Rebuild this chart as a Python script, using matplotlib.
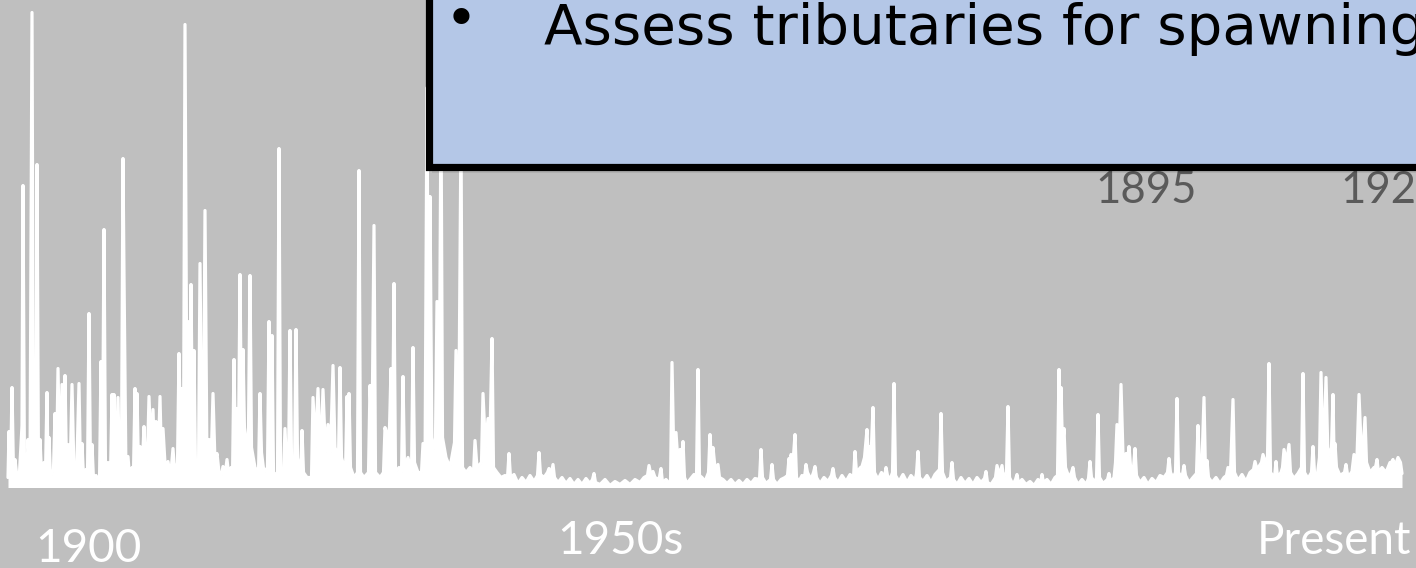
import matplotlib
matplotlib.use("Agg")
import matplotlib.pyplot as plt
from matplotlib.patches import Rectangle
import numpy as np

# ── Data: daily river flow, months since Jan 1900, flow in 1000 cfs ──────────
# spikes (flood peaks)
peaks_early = [
    (1, 5.6), (4, 10.0), (7, 2.8), (15, 30.2), (18, 2.3), (20, 4.8), (24, 47.5),
    (27, 11.9), (29, 32.3), (32, 4.8), (39, 9.5), (41, 5.0), (47, 7.4), (50, 11.9),
    (54, 10.3), (57, 11.2), (60, 4.3), (64, 10.3), (71, 10.4), (74, 4.4), (81, 17.4),
    (84, 4.3), (93, 12.6), (96, 25.8), (104, 9.3), (106, 9.3), (110, 9.0), (115, 32.9),
    (116, 21.3), (120, 3.1), (127, 9.9), (129, 9.4), (132, 4.1), (136, 6.1), (141, 9.1),
    (145, 7.8), (148, 6.6), (152, 9.1), (155, 5.9), (160, 2.6), (165, 3.9), (171, 13.4),
    (174, 9.9), (177, 46.3), (181, 16.6), (183, 20.3), (186, 13.7), (189, 2.6),
    (192, 22.4), (197, 27.7), (201, 4.8), (205, 9.4), (209, 3.4), (215, 2.1), (219, 2.8),
    (223, 2.0), (226, 12.8), (229, 7.9), (232, 21.3), (235, 13.8), (242, 21.2),
    (252, 9.4), (261, 16.6), (264, 15.2), (271, 33.9), (277, 5.9), (282, 15.7),
    (288, 15.8), (294, 5.7), (305, 9.0), (310, 9.9), (315, 9.8), (320, 6.3), (325, 12.2),
    (332, 12.0), (339, 9.1), (341, 9.4), (351, 31.7), (362, 10.2), (366, 26.2), (377, 6.0),
    (383, 11.9), (386, 20.4), (395, 11.1), (405, 14.0), (415, 4.4), (419, 40.0),
    (422, 29.1), (429, 18.6), (433, 38.0), (448, 13.7), (453, 36.0), (467, 4.7),
    (475, 9.4), (480, 6.9), (484, 14.9), (501, 3.4),
]
peaks_mid = [
    (531, 3.5), (541, 1.9), (545, 2.3), (586, 1.4), (641, 2.2), (645, 1.6), (653, 1.9),
    (664, 12.5), (668, 5.5), (672, 3.8), (675, 4.6), (690, 11.8), (702, 5.3), (705, 4.0),
    (710, 2.3), (753, 3.8), (764, 2.3), (781, 2.9), (783, 3.3), (787, 5.3), (798, 2.3),
    (807, 2.1), (825, 1.9), (847, 3.6), (854, 2.1), (859, 5.8), (861, 4.1), (865, 8.0),
    (878, 2.0), (886, 10.4), (910, 3.6), (933, 7.4), (944, 2.5),
]
peaks_late = [
    (978, 1.6), (989, 2.2), (994, 2.2), (1000, 8.1), (1009, 1.3), (1034, 1.3),
    (1051, 11.8), (1053, 10.0), (1056, 5.9), (1065, 2.0), (1082, 2.6), (1090, 7.3),
    (1101, 1.4), (1109, 6.3), (1113, 10.3), (1118, 3.4), (1121, 4.1), (1127, 3.9),
    (1161, 2.9), (1169, 8.9), (1176, 2.2), (1190, 6.2), (1196, 9.0), (1199, 2.7),
    (1220, 2.0), (1225, 8.8), (1247, 2.6), (1255, 3.3), (1261, 12.4), (1268, 2.6),
    (1276, 3.8), (1281, 4.3), (1295, 11.4), (1305, 4.1), (1313, 11.5), (1318, 11.0),
    (1325, 9.3), (1327, 4.4), (1338, 2.3), (1346, 3.3), (1351, 9.3), (1357, 7.0),
    (1369, 2.8), (1385, 2.8), (1394, 1.4),
]

# low flow between the peaks
valleys_early = [
    (0, 1.0), (2.5, 1.2), (5.5, 1.5), (9, 1.0), (11.5, 1.5), (14, 6.2), (16.5, 1.0),
    (19, 1.5), (22, 1.2), (25.5, 2.0), (28, 3.0), (30.5, 1.5), (33.5, 1.5), (36, 2.5),
    (37.5, 1.5), (40, 2.0), (42.5, 1.0), (45.5, 1.8), (48.5, 2.0), (52, 1.5), (55.5, 2.5),
    (58.5, 2.0), (62, 1.0), (66, 1.5), (68.5, 1.0), (72.5, 1.5), (75.5, 1.0), (78, 1.8),
    (79.5, 1.2), (82.5, 1.5), (85.5, 0.8), (88, 1.2), (91.5, 0.6), (94.5, 2.5),
    (97.5, 1.5), (100, 2.5), (102.5, 1.2), (105, 3.0), (108, 1.5), (111.5, 1.5),
    (113.5, 3.5), (118, 1.0), (121.5, 1.0), (124, 2.0), (125.5, 1.5), (128, 4.0),
    (130.5, 2.0), (134, 1.5), (137.5, 2.5), (139.5, 3.0), (143, 3.5), (146.5, 3.0),
    (150, 2.0), (153.5, 2.5), (157.5, 1.5), (162.5, 1.0), (167, 1.0), (169.5, 2.5),
    (172.5, 5.0), (175.5, 3.0), (179, 4.0), (182, 9.0), (184.5, 5.0), (187.5, 2.0),
    (190.5, 1.5), (194, 3.0), (195.5, 4.5), (199, 2.0), (203, 2.0), (207, 2.5),
    (211, 1.5), (213, 1.0), (217, 1.2), (221, 1.0), (224.5, 1.0), (227.5, 3.0),
    (230.5, 4.0), (233.5, 5.5), (237, 3.0), (240.5, 6.0), (243.5, 4.0), (247, 2.0),
    (250.5, 1.5), (253.5, 3.5), (256, 1.5), (259.5, 2.0), (262.5, 6.0), (265.5, 1.5),
    (269.5, 1.2), (272.5, 2.0), (275.5, 1.5), (279, 1.0), (280.5, 2.0), (283.5, 3.0),
    (286.5, 1.5), (289.5, 3.0), (292.5, 1.0), (295.5, 1.5), (299, 1.0), (303.5, 1.0),
    (307.5, 4.0), (312.5, 2.5), (317.5, 3.5), (322.5, 3.5), (327, 4.0), (330.5, 3.0),
    (333.5, 3.0), (337.5, 1.5), (340, 4.0), (342.5, 2.0), (346, 1.0), (349.5, 1.5),
    (352.5, 1.5), (356, 1.0), (360.5, 1.5), (364, 5.0), (367.5, 1.5), (372, 1.0),
    (375.5, 1.5), (379, 5.0), (381.5, 6.0), (384.5, 4.0), (387.5, 1.5), (391, 2.0),
    (393.5, 1.5), (396.5, 2.0), (400, 3.0), (403.5, 1.5), (406.5, 2.5), (410, 1.5),
    (413.5, 1.5), (417, 1.5), (420.5, 8.0), (424, 3.0), (427.5, 5.0), (431, 4.0),
    (434.5, 5.0), (438, 3.0), (442, 2.0), (446.5, 4.5), (450.5, 2.5), (454.5, 2.0),
    (458, 1.5), (462, 2.0), (465.5, 1.5), (469, 2.0), (473.5, 2.5), (477.5, 4.0),
    (482, 5.0), (485.5, 2.0), (489, 1.5), (493, 1.0), (497, 1.2), (499.5, 1.0),
]
valleys_mid = [
    (502.5, 1.0), (506, 1.3), (510, 0.4), (514, 1.0), (518, 0.5), (522, 1.2), (526, 0.6),
    (529.5, 1.2), (532.5, 1.3), (536, 1.0), (539.5, 1.5), (543, 1.2), (546.5, 1.0),
    (550, 0.5), (554, 1.0), (558, 0.4), (562, 0.9), (566, 0.3), (570, 0.8), (574, 0.3),
    (578, 0.9), (582, 0.4), (584.5, 0.8), (587.5, 0.5), (592, 0.3), (597, 0.8),
    (602, 0.2), (607, 0.6), (612, 0.3), (617, 0.7), (622, 0.3), (627, 0.8), (632, 0.5),
    (636, 1.0), (639.5, 1.2), (643, 1.2), (647, 1.0), (651, 0.8), (654.5, 0.5),
    (658, 0.8), (662.5, 0.3), (666, 2.0), (670, 2.5), (673.5, 2.5), (676.5, 1.0),
    (679, 0.4), (682, 0.8), (686, 1.3), (688.5, 1.0), (691.5, 1.2), (694, 1.0),
    (697, 0.6), (700.5, 1.5), (703.5, 2.5), (707.5, 1.5), (711.5, 1.0), (715, 0.8),
    (719, 0.4), (723, 0.8), (727, 0.3), (731, 0.7), (735, 0.3), (739, 0.8), (743, 0.4),
    (747, 0.9), (751.5, 0.8), (754.5, 1.0), (758, 0.4), (762.5, 0.8), (765.5, 0.8),
    (769, 0.3), (773, 0.8), (777, 1.0), (779.5, 1.2), (782, 2.0), (785, 2.5),
    (788.5, 1.0), (791, 0.6), (794, 1.2), (796.5, 1.0), (799.5, 1.5), (803, 0.8),
    (805.5, 1.5), (808.5, 1.0), (812, 0.4), (816, 1.0), (820, 0.6), (823.5, 1.2),
    (826.5, 1.0), (830, 0.5), (834, 1.2), (838, 0.6), (842, 1.3), (845.5, 1.0),
    (848.5, 1.5), (852.5, 2.0), (856.5, 3.0), (860, 3.5), (863, 3.0), (866.5, 1.5),
    (870, 0.8), (873.5, 1.5), (876.5, 1.0), (879.5, 1.2), (882, 0.8), (884.5, 1.5),
    (887.5, 1.2), (891, 0.6), (895, 1.3), (899, 0.5), (903, 1.2), (907, 0.7),
    (908.5, 1.4), (911.5, 1.0), (915, 0.6), (919, 1.2), (923, 0.5), (927, 1.3),
    (931.5, 1.8), (934.5, 1.5), (938, 0.6), (942.5, 1.0), (945.5, 0.8), (949, 0.3),
    (953, 1.0), (957, 0.4), (961, 0.9), (965, 0.3), (969, 1.0), (973, 0.5), (976.5, 0.9),
]
valleys_late = [
    (979.5, 0.5), (983, 0.3), (987.5, 1.0), (991.5, 1.2), (995.5, 1.0), (998.5, 1.5),
    (1001.5, 1.0), (1005, 0.3), (1007.5, 0.8), (1010.5, 0.4), (1014, 0.8), (1018, 0.3),
    (1022, 0.6), (1026, 0.2), (1030, 0.8), (1032.5, 0.4), (1035.5, 0.5), (1039, 0.8),
    (1043, 0.3), (1047, 1.0), (1049.5, 1.2), (1052, 5.0), (1054.5, 4.0), (1057.5, 2.0),
    (1061, 1.0), (1063.5, 1.5), (1066.5, 1.0), (1070, 0.3), (1074, 0.8), (1078, 0.3),
    (1080.5, 0.9), (1083.5, 1.0), (1087, 0.5), (1088.5, 1.0), (1091.5, 1.0),
    (1095, 0.4), (1099.5, 0.8), (1102.5, 0.5), (1106, 1.0), (1107.5, 2.5), (1111, 3.0),
    (1115.5, 1.5), (1119.5, 2.5), (1123, 1.5), (1125.5, 2.0), (1128.5, 1.2),
    (1132, 0.5), (1136, 1.0), (1140, 0.3), (1144, 0.9), (1148, 0.5), (1152, 1.2),
    (1156, 1.0), (1159.5, 1.5), (1162.5, 1.5), (1165, 1.0), (1167.5, 1.5),
    (1170.5, 1.5), (1174, 1.0), (1177.5, 1.2), (1181, 0.5), (1185, 1.0), (1188.5, 1.4),
    (1191.5, 2.0), (1194, 2.5), (1197.5, 1.5), (1200.5, 1.0), (1204, 0.5), (1208, 1.0),
    (1212, 0.4), (1216, 1.0), (1218.5, 1.2), (1222.5, 1.5), (1226.5, 1.5), (1230, 0.7),
    (1234, 1.3), (1238, 0.6), (1242, 1.5), (1245.5, 1.8), (1249, 1.8), (1253.5, 2.5),
    (1257.5, 2.5), (1259.5, 3.0), (1262.5, 1.5), (1266.5, 1.0), (1269.5, 1.0),
    (1273, 1.5), (1274.5, 2.0), (1278.5, 2.5), (1282.5, 1.5), (1286, 0.9), (1290, 1.4),
    (1293.5, 2.0), (1296.5, 1.5), (1300, 0.9), (1303.5, 1.5), (1306.5, 1.5),
    (1309, 1.0), (1311.5, 3.0), (1315.5, 2.0), (1320, 3.0), (1323.5, 4.0), (1326, 3.5),
    (1328.5, 2.0), (1332, 1.2), (1336.5, 1.5), (1340, 1.0), (1344, 1.6), (1348.5, 1.5),
    (1354, 2.0), (1358.5, 2.5), (1362, 1.5), (1366, 2.0), (1367.5, 2.0), (1370.5, 1.5),
    (1374, 2.0), (1378, 1.5), (1382, 2.5), (1383.5, 2.5), (1386.5, 2.0), (1390, 3.0),
    (1392.5, 2.5),
]

bottom_labels = ["1900", "1950s", "Present"]
hidden_ticks = ["1895", "192"]
bullet_text = "Assess tributaries for spawning habitat"

# ── Colours / fonts ───────────────────────────────────────────────────────────
BG      = "#BFBFBF"
BOX     = "#B4C7E7"
GREY_TX = "#5A5A5A"
FONT    = ["Lato", "DejaVu Sans"]
BOXFONT = ["DejaVu Sans"]

W, H = 1416, 568


def fx(x):
    return x / W


def fy(y):
    return 1 - y / H


# ── Build the hydrograph line ─────────────────────────────────────────────────
pts = peaks_early + peaks_mid + peaks_late + valleys_early + valleys_mid + valleys_late
pts = np.array(sorted(pts))
month, flow = pts[:, 0], pts[:, 1]

fig = plt.figure(figsize=(W / 100, H / 100), dpi=100, facecolor=BG)
ax = fig.add_axes([0, 0, 1, 1])
ax.axis("off")
ax.fill_between(month, 0, flow, color="white", linewidth=0)
ax.plot(month, flow, color="white", linewidth=2.3,
        solid_joinstyle="round", solid_capstyle="round")
ax.set_xlim(-8, 1408)
ax.set_ylim(-8.05, 48.75)

# ── Text box overlay (top right) ──────────────────────────────────────────────
for k, a in [(6, 0.08), (4, 0.12), (2, 0.18)]:
    fig.patches.append(Rectangle((fx(428.8 + k * 0.5), fy(166.5 + k)), 1, 1,
                                 transform=fig.transFigure, fc="black",
                                 ec="none", alpha=a, zorder=4))
fig.patches.append(Rectangle((fx(428.8), fy(166.5)), 1, 1,
                             transform=fig.transFigure, fc=BOX, ec="black",
                             lw=5.2, zorder=5))
fig.text(fx(461), fy(37), "\u2022", ha="center", va="baseline",
         fontsize=40, family=BOXFONT, color="black", zorder=6)
fig.text(fx(544), fy(44), bullet_text, ha="left", va="baseline",
         fontsize=40.5, family=BOXFONT, color="black", zorder=6)

# tick labels of the chart hidden behind the box
for x, lbl in zip([1095, 1340], hidden_ticks):
    fig.text(fx(x), fy(203), lbl, ha="left", va="baseline",
             fontsize=31.5, family=FONT, color=GREY_TX, zorder=3)

# ── Period labels along the bottom ────────────────────────────────────────────
for x, y, lbl in zip([35, 557, 1257], [562, 554, 554], bottom_labels):
    fig.text(fx(x), fy(y), lbl, ha="left", va="baseline",
             fontsize=33, family=FONT, color="white", zorder=3)

fig.savefig("out.png", dpi=100, facecolor=BG)
